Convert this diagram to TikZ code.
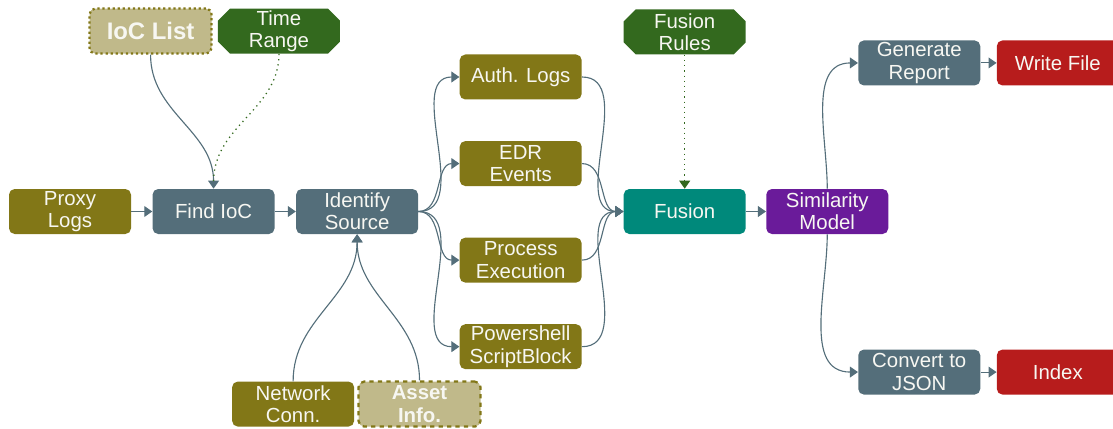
\documentclass[tikz,border=0pt]{standalone}
\usepackage{fontspec}
\setmainfont{Liberation Sans}
\usepackage{tikz}
\usetikzlibrary{positioning,arrows.meta}
\definecolor{olivebox}{HTML}{827717}
\definecolor{slatebox}{HTML}{546E7A}
\definecolor{tanbox}{HTML}{C0B98A}
\definecolor{darkgreen}{HTML}{33691E}
\definecolor{tealbox}{HTML}{00897B}
\definecolor{purplebox}{HTML}{6A1B9A}
\definecolor{redbox}{HTML}{B71C1C}
\definecolor{lighttext}{HTML}{F7F7F2}

\begin{document}
\begin{tikzpicture}[
    node distance=0.5cm,  % base gap between boxes
    >={Triangle[length=2mm,width=2.7mm]},
    box/.style = {rectangle, rounded corners=4pt, minimum width=3.05cm, minimum height=1.125cm,
                  inner sep=0pt, align=center, text=lighttext, font=\fontsize{14.5}{15.8}\selectfont},
    source/.style = {box, fill=olivebox},
    optional/.style = {box, fill=tanbox, draw=olivebox, line width=1.6pt},
    stage/.style = {box, fill=slatebox},
    param/.style = {box, rounded corners=0pt, path picture={
        \fill[darkgreen] ([xshift=0.3cm]path picture bounding box.north west)
          -- ([xshift=-0.3cm]path picture bounding box.north east)
          -- ([yshift=-0.3cm]path picture bounding box.north east)
          -- ([yshift=0.3cm]path picture bounding box.south east)
          -- ([xshift=-0.3cm]path picture bounding box.south east)
          -- ([xshift=0.3cm]path picture bounding box.south west)
          -- ([yshift=0.3cm]path picture bounding box.south west)
          -- ([yshift=-0.3cm]path picture bounding box.north west) -- cycle;}},
    output/.style = {box, fill=redbox},
    flow/.style = {->, draw=slatebox, line width=0.8pt},
    hint/.style = {draw=darkgreen, line width=0.9pt, dash pattern=on 0.9pt off 2.8pt}
  ]
    \useasboundingbox (0,0) rectangle (27.825,10.7);

    \node[source] (proxy) at (1.75,5.4125) {Proxy\\Logs};
    \node[stage] (findioc) [right=0.525cm of proxy] {Find IoC};
    \node[stage] (identify) [right=0.525cm of findioc] {Identify\\Source};
    \node[optional, dotted, font=\fontsize{17}{19}\selectfont\bfseries] (ioclist) [above=3.35cm of findioc, xshift=-1.575cm] {IoC List};
    \node[param] (timerange) [right=0.125cm of ioclist] {Time\\Range};

    % log sources fanning out of identify
    \node[source] (auth) [right=1.025cm of identify, yshift=3.3625cm] {Auth. Logs};
    \node[source] (edr) [below=1.025cm of auth] {EDR\\Events};
    \node[source] (procexec) [below=1.275cm of edr] {Process\\Execution};
    \node[source] (pshell) [below=1.025cm of procexec] {Powershell\\ScriptBlock};

    \node[source] (netconn) [below=3.675cm of identify, xshift=-1.6cm] {Network\\Conn.};
    \node[optional, dashed, font=\fontsize{14.5}{15.8}\selectfont\bfseries] (asset) [right=0.075cm of netconn] {Asset\\Info.};

    \node[box, fill=tealbox] (fusion) [right=5.125cm of identify] {Fusion};
    \node[param] (fusionrules) [above=3.35cm of fusion] {Fusion\\Rules};
    \node[box, fill=purplebox] (similarity) [right=of fusion] {Similarity\\Model};

    \node[stage] (report) [above=2.575cm of similarity, xshift=2.3cm] {Generate\\Report};
    \node[output] (writefile) [right=0.4cm of report] {Write File};
    \node[stage] (tojson) [below=2.875cm of similarity, xshift=2.3cm] {Convert to\\JSON};
    \node[output] (index) [right=0.4cm of tojson] {Index};

    \draw[flow] (proxy) -- (findioc);
    \draw[flow] (findioc) -- (identify);
    \draw[flow] (ioclist.south) to[out=-90,in=90] (findioc.north);
    \draw[hint] (timerange.south) to[out=-90,in=90] ([yshift=5pt]findioc.north);
    \draw[flow] (netconn.north) to[out=90,in=-90] (identify.south);
    \draw[flow] (asset.north) to[out=90,in=-90] (identify.south);

    % fan out and back in
    \foreach \src in {auth,edr,procexec,pshell} {
      \draw[flow] (identify.east) to[out=0,in=180] (\src.west);
      \draw[flow] (\src.east) to[out=0,in=180] (fusion.west);
    }

    \draw[hint, ->] (fusionrules) -- (fusion);
    \draw[flow] (fusion) -- (similarity);
    \draw[flow] (similarity.north) to[out=90,in=180] (report.west);
    \draw[flow] (similarity.south) to[out=-90,in=180] (tojson.west);
    \draw[flow] (report) -- (writefile);
    \draw[flow] (tojson) -- (index);
  \end{tikzpicture}
\end{document}
